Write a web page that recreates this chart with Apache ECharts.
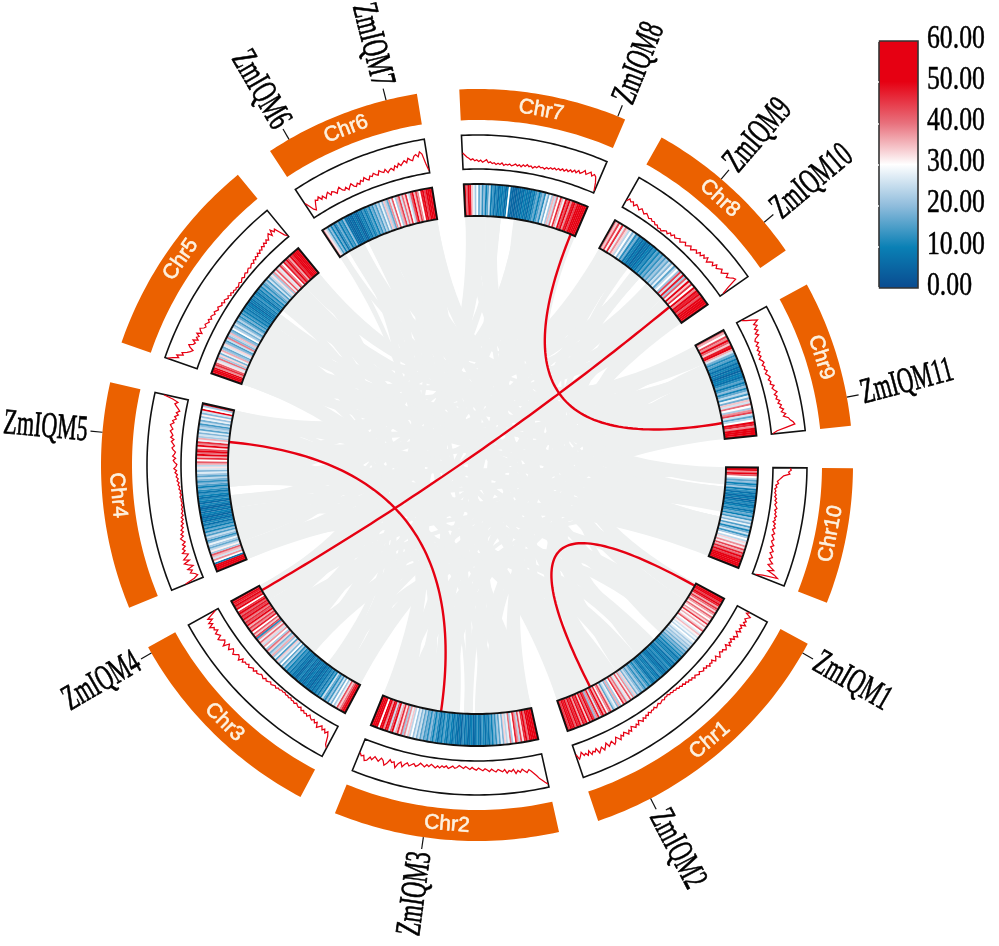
<!DOCTYPE html>
<html><head><meta charset="utf-8">
<style>html,body{margin:0;padding:0;background:#fff}#c{width:999px;height:946px}</style>
<script src="https://cdn.jsdelivr.net/npm/echarts@6/dist/echarts.min.js"></script>
</head><body><div id="c"></div>
<script>
const chrNames=['Chr1','Chr2','Chr3','Chr4','Chr5','Chr6','Chr7','Chr8','Chr9','Chr10'];
const chrStart=[118.4,167.4,208,247.7,289,326.6,357.3,29.4,61.3,90.5];
const chrEnd=[161.2,202.2,241,282.7,320.5,350.8,383.2,55.2,84,111.5];

const heatChr1=[52,56,54,44,50,47,36,46,40,33,44,37,31,41,35,30,38,33,45,31,36,29,34,42,30,27,35,31,26,29,24,30,27,22,26,21,24,18,23,15,19,13,17,10,14,8,12,9,15,7,11,6,10,13,8,12,5,9,7,11,14,6,10,8,13,9,7,12,16,10,14,19,12,17,22,15,20,25,18,33,24,38,28,42,32,26,40,35,46,30,22,36,19,28,24,16,33,44,38,29,47,36,51,42,26,48,38,20,45,53,40,50,34,55,44,49,37,54,46,52,41,56,48,54,44,50];
const heatChr2=[56,56,55,54,53,40,50,46,32,44,24,38,47,30,22,40,28,24,33,19,27,16,22,13,18,10,15,8,12,7,11,14,6,9,12,7,5,10,8,6,11,7,13,5,9,6,8,12,7,10,14,8,11,16,9,13,7,12,17,10,15,20,12,18,14,22,16,25,19,27,21,30,24,34,28,38,22,42,32,46,36,27,50,42,25,48,54,38,52,56,30,55,51,56,54];
const heatChr3=[56,52,47,40,34,43,28,22,30,18,26,14,21,12,17,25,10,15,8,13,7,11,6,9,5,8,6,10,7,5,9,6,11,7,5,9,7,12,8,14,10,18,12,24,16,30,19,26,34,15,28,21,36,24,18,33,40,22,30,37,25,33,41,28,38,12,44,34,42,30,48,38,45,36,50,42,46,39,52,44,48,41,53,46,30,50,44,52,47,54,49];
const heatChr4=[56,54,50,55,8,30,38,26,35,42,22,31,24,17,22,28,19,13,20,25,15,21,11,17,9,14,7,11,6,9,5,8,10,6,9,5,7,11,6,9,12,7,10,14,8,12,17,10,15,19,13,18,24,16,21,27,19,26,32,24,36,42,30,46,36,50,40,54,44,32,50,38,46,28,36,22,26,19,27,16,24,20,14,25,18,28,21,31,19,26,52,30,22,56];
const heatChr5=[57,55,53,50,38,46,42,32,26,40,22,33,18,28,36,21,17,27,33,20,15,25,39,19,24,35,20,16,30,23,18,26,20,15,23,17,12,18,11,15,9,13,8,11,7,10,6,9,7,12,8,14,10,7,13,9,16,11,19,13,17,22,15,26,18,24,32,22,38,28,43,33,27,46,38,30,48,40,52,44,36,50,46,55,58,57,58,56];
const heatChr6=[38,32,24,14,20,10,17,7,13,18,9,15,11,20,8,6,5,7,5,9,6,4,8,11,7,14,9,12,16,10,18,13,21,15,24,18,28,20,34,23,17,38,27,42,30,22,36,44,26,40,33,46,29,24,42,50,35,45,38,30,48,52,44,56,57,57,58];
const heatChr7=[56,40,55,48,34,28,22,30,17,24,13,20,10,16,25,9,14,7,12,6,10,8,11,6,9,30,7,5,6,4,7,5,8,6,10,7,9,6,11,8,13,17,10,15,20,12,26,18,30,22,35,25,40,30,46,36,28,50,42,54,38,48,55,44,52,57,50,56,54,57];
const heatChr8=[40,34,44,31,46,28,38,33,24,30,19,26,12,18,8,11,6,9,5,8,6,10,7,13,9,16,11,18,13,20,15,22,17,25,19,28,16,24,30,21,44,26,48,22,42,28,50,34,46,30,52,38,55,47,56,42,57,55,57,56,58];
const heatChr9=[42,36,30,44,38,50,41,34,48,52,36,26,18,12,16,9,13,7,11,6,9,5,8,10,7,12,16,9,14,20,11,17,24,14,28,18,34,26,40,30,22,38,44,26,16,24,30,50,47,38,54,52,56,55];
const heatChr10=[55,52,38,54,42,30,24,16,20,10,15,22,9,13,7,11,6,9,5,8,12,7,10,14,8,12,17,10,21,14,26,19,28,15,24,11,18,26,14,22,30,24,33,28,38,32,44,36,47,40,52,44,55,50,56,54,57];
const heatValues=[heatChr1,heatChr2,heatChr3,heatChr4,heatChr5,heatChr6,heatChr7,heatChr8,heatChr9,heatChr10];

const lineChr1=[42,34,50,44,38,46,40,50,36,44,39,47,35,42,48,37,44,33,41,36,45,31,38,42,33,37,30,36,41,28,34,38,27,33,29,35,26,31,24,30,27,22,28,24,20,26,19,23,17,21,15,19,13,17,12,15,10,13,9,12,8,11,6,10,8,13,9,12,15,10,14,18,12,17,15,20,14,22,17,25,19,28,22,18,30,24,32,27,22,35,28,38,31,26,36,30,42,34,28,40,46,33,38,44,31,40,48,36,43,50,34,42,38,46,32,44,36,40,28,38,46,30];
const lineChr2=[90,84,76,70,60,52,44,38,46,40,34,42,36,44,31,37,33,40,29,35,31,27,34,30,25,32,27,23,29,25,21,27,24,19,25,21,17,23,19,15,21,24,18,22,26,19,24,20,27,22,29,24,20,28,23,31,26,22,30,34,27,32,37,29,35,44,31,38,52,36,40,33,46,54,41,36,48,43,38,50,44,56,60,46,50,42];
const lineChr3=[72,64,40,28,36,26,32,22,28,34,20,26,18,24,20,14,22,16,19,13,18,10,15,12,8,13,9,11,6,10,7,9,5,8,6,10,8,13,9,12,15,10,14,17,12,19,15,13,18,21,16,24,18,22,27,20,26,24,31,23,36,28,25,33,38,30,27,40,34,28,46,36,32,42,48,35,40,45,33,42,38,50,36,46,30,42,26,10];
const lineChr4=[55,25,12,18,30,22,34,15,28,38,20,36,26,18,34,24,30,20,27,17,23,28,18,24,15,21,13,18,10,15,8,13,6,10,5,8,4,7,3,6,5,8,3,7,4,9,6,11,7,13,9,15,11,18,13,21,15,12,19,23,16,25,20,17,24,28,21,26,31,24,34,28,32,37,30,35,39,29,34,24,30,20,27,18,24,30,36,28,45,72];
const lineChr5=[92,78,62,70,52,58,44,36,30,42,48,36,32,42,28,36,30,40,26,34,38,28,24,30,26,22,28,20,26,23,18,24,20,16,22,18,14,19,12,17,14,10,15,8,13,7,10,6,9,5,8,11,6,10,13,8,12,15,10,14,17,12,16,19,14,22,17,24,19,27,21,29,24,32,26,35,29,37,31,40,46,34,50,38,44,28,12,5];
const lineChr6=[50,36,22,16,30,42,38,46,34,42,30,38,44,32,40,36,28,36,42,30,26,33,22,30,36,26,22,30,24,34,28,38,30,26,36,32,40,34,30,42,36,32,40,28,34,38,30,42,35,46,38,44,50,42,54,48,44,56,60,52,66,58,30,8];
const lineChr7=[48,42,36,32,27,30,24,27,22,26,20,24,28,19,22,17,20,15,19,16,21,14,18,16,20,15,18,22,17,21,16,23,19,25,20,23,18,24,21,27,23,26,22,28,25,30,27,32,28,34,30,36,31,38,33,40,35,43,37,46,39,44,52,42,48,54,44,51,46,30,6];
const lineChr8=[22,32,26,30,20,28,24,18,26,21,16,22,18,13,17,12,15,9,12,6,9,5,11,15,10,18,13,21,15,19,24,16,22,27,19,25,30,21,28,33,26,36,29,39,32,42,30,38,44,36,48,40,46,52,43,50,58,47,54,62,66,35,12];
const lineChr9=[16,28,44,58,42,50,38,46,34,42,28,24,32,22,28,20,26,18,24,16,22,26,18,24,20,27,19,25,30,22,28,24,34,26,31,38,28,35,30,40,33,42,36,46,38,50,42,56,60,68,72,45,18,5];
const lineChr10=[50,54,46,50,32,26,20,14,18,10,14,8,12,9,14,10,16,12,18,13,17,21,15,20,17,23,18,22,16,24,20,26,19,23,28,21,26,30,24,28,34,26,32,37,29,35,40,32,38,46,34,44,56,40,62,74,30,10];
const lineValues=[lineChr1,lineChr2,lineChr3,lineChr4,lineChr5,lineChr6,lineChr7,lineChr8,lineChr9,lineChr10];

const greyLinks=[[19,23.2,118.4,123],[51.5,55.2,167.4,172],[80,84,208,212.5],[106,111.5,247.7,252],[156,161.2,289,293],[197.5,202.2,326.6,328],[237,241,357.3,2],[278,282.7,29.4,33.5],[316,320.5,61.3,66],[346.5,350.8,90.5,94],
[123,126,8.5,11],[125,128,265,267.5],[128,130.5,297,299.5],[129.5,132,339,341.5],[130.5,132.5,43,45.5],[134.5,137.5,273,276],[136,139,329,331.5],[137.5,140,13,15.5],[140,143,221,223.5],[141.5,144,304.5,306.5],[143,145,2,4],[144,146,71,73.5],[146,149,260,262],[147,150,342,344.5],[148.5,151,38.5,40.5],[151,154,229,231.5],[152,155,312,314.5],[153.5,156,66,68.5],[156,159,334,336.5],[158,161.2,33.5,36],
[167.4,170,278,280.5],[169,172,312.5,315],[172,174.5,269,271.5],[173,175.5,347,349.5],[174,176.5,45,48],[176.5,179,301,303],[177.5,180,9.5,12],[178.5,180.5,76,78.5],[181,183,339,341],[181,183,34,36],[184,186.5,289,291.5],[185,187.5,3,5.5],[186,188,48,50],[187,189,95,97.5],[189,191.5,330,332.5],[190,192,14,16.5],[191,193,66.5,69],[193,195.5,343,345.5],[194,196.5,39,41],[195,197.5,102,104.5],[197.5,200,18,20.5],[198.5,201,72,74.5],[200,202.2,98,100],
[208,210.5,308.5,310.5],[210,212.5,347,349.5],[212.5,215,305,307],[213.5,216,15,17.5],[214.5,217,76.5,79],[221,223.5,335,337.5],[222,224,30,32.5],[223,225,98.5,100.5],[225,227.5,317,319.5],[226,228,10,12.5],[227,229,62,64.5],[229,231.5,343,345],[230,232,49,51],[231,233,103,105],[233,235.5,357.5,0.5],[234,236,43,45.5],[235,237,91,93],[237,239.5,19,21.5],[238,240,67,69.5],[239,241,107,109.5],
[247.7,250.5,34,36.5],[249.5,252,81,83],[252,254.5,3.5,5.5],[253,255,52,54],[254,256,95.5,97.5],[256,258.5,39,41],[257,259,72,74],[258,260,119,121.5],[260,262,14,16],[261,263,99,100.8],[265,267.5,44,46.5],[266,268,91,93],[267,269,124,126.5],[269,271.5,9,11.5],[270.5,273,76,78.5],[273,276,67,69.5],[275,278,102,104.5],[278,280.5,62,64.5],[280,282.7,107,110],
[289,291.5,48.5,50.5],[290.5,293,95,97],[293,295.5,39,41],[294.5,297,81,83.5],[297,299.5,30,32.5],[298,300,91,93],[299,301,129,131.5],[301,303,72,74.5],[302.5,304.5,107,110],[304.5,306.5,52,54.5],[305.5,307.5,98,100],[308.5,310.5,34,36.5],[310,312,102,104.5],[312,314.5,67,69.5],[313.5,316,119,121.5],[316,318.5,43,45.5],[318,320.5,76,78.5],
[326.6,328,81,83],[329,331.5,48.5,50.5],[330.5,333,95,97],[334,336.5,72,74.5],[335.5,338,107,110],[338,340.5,62,64.5],[339.5,342,98,100],[342,344.5,52,54.5],[343.5,346.5,124,126.5],[346.5,350.8,102,105],
[357.3,0,76,78.5],[2,5,91,93.5],[9,12,81,83.5],[13.5,16,95,97.5],[18,21,107,110],
[12,14,92,94.5],[17,18.5,102,104],[69,71.5,150,153],[74,76.5,155,158],[78.5,80.5,168,171],[36,37.5,120,123],[104.5,106.5,190,193],[97,98.5,175,178],[124,127,210,213],[128,131,214,216.5],[136,139,223,226],[142,145,231,234],[150,153,237,240],[155,158,249,252],
[170,173,256,259],[175,178,261,263],[182,183,265,267],[186,189,270,273],[191,194,276,279],[196,199,281,282.7],[210,212,291,294],[215,217,296,299],[222,224,300,303],[228,231,306,307.5],[233,236,311,314],[238,241,317,320],
[250,252,330,333],[255,257,336,339],[260,262,341,344],[267,270,346,349],[272,275,348,350.5],[291,294,4,5.5],[296,299,9,12],[301,304,13,16],[309,312,18,21],[330,333,39,41],[335,338,44,47],[341,344,49,51],[347,350,33,36],[0,2,67,70],[10,13,72,75],[15,18,77,79.5],[31,33,98,100.5],[44,47,103,105.5],[50,53,109,111]];
const redLinks=[[22.1,80.3],[50.6,239.8],[275.3,188.3],[119,153]];
const geneNames=['ZmIQM1','ZmIQM2','ZmIQM3','ZmIQM4','ZmIQM5','ZmIQM6','ZmIQM7','ZmIQM8','ZmIQM9','ZmIQM10','ZmIQM11'];
const geneAngles=[120,152.5,188.2,240,275,330,346,22,40.5,49.8,79.6];
const geneTilts=[30,62.5,-82,-30,5,60,76,-68,-49.5,-40,-15];
const legendTicks=[0,10,20,30,40,50,60];
const legendLabels=['0.00','10.00','20.00','30.00','40.00','50.00','60.00'];
const legendColors=['#0a4a8f','#0a80b5','#8fbcdc','#ffffff','#e8707c','#e60012','#e60012'];

const R={linkR:249,heatIn:249,heatOut:281,lineIn:296,lineOut:330,bandIn:345,bandOut:376,tickOut:388,labelR:391};
const RED='#e60012',ORANGE='#eb6100',GREY='#eef0f0',BLACK='#111';
const norm=a=>((a%360)+360)%360;
const pt=(api,r,a)=>{const c=api.coord([r,norm(a)]);return [c[0],c[1]];};
function arc(api,r,a,b,n){const o=[];for(let i=0;i<=n;i++)o.push(pt(api,r,a+(b-a)*i/n));return o;}
function quad(p0,c,p2,n){const o=[];for(let i=1;i<n;i++){const t=i/n,u=1-t;o.push([u*u*p0[0]+2*u*t*c[0]+t*t*p2[0],u*u*p0[1]+2*u*t*c[1]+t*t*p2[1]]);}return o;}
function ringPoly(api,ri,ro,a,b,n){return arc(api,ro,a,b,n).concat(arc(api,ri,b,a,n));}
const heatColor=v=>echarts.color.lerp(Math.min(1,Math.max(0,v/60)),legendColors);

const heatData=[],lineData=[];
heatValues.forEach((arr,c)=>arr.forEach((v,i)=>heatData.push([c,i,v])));
lineValues.forEach((arr,c)=>lineData.push([c,arr.length]));

const polarBase={type:'custom',coordinateSystem:'polar',silent:true,clip:false,animation:false};
const series=[
 Object.assign({},polarBase,{name:'grey links',z:1,data:greyLinks,renderItem(p,api){
   const [a1,a2raw,b1,b2raw]=greyLinks[p.dataIndex];
   const a2=a2raw<a1?a2raw+360:a2raw,b2=b2raw<b1?b2raw+360:b2raw;
   const c=pt(api,0,0);
   const A=arc(api,R.linkR,a1,a2,5),B=arc(api,R.linkR,b1,b2,5);
   const pts=[].concat(A,quad(A[5],c,B[0],36),B,quad(B[5],c,A[0],36));
   return {type:'polygon',shape:{points:pts},style:{fill:GREY,stroke:null}};
 }}),
 Object.assign({},polarBase,{name:'red links',z:3,data:redLinks,renderItem(p,api){
   const [a,b]=redLinks[p.dataIndex];
   const c=pt(api,0,0),A=pt(api,R.linkR,a),B=pt(api,R.linkR,b);
   return {type:'polyline',shape:{points:[A].concat(quad(A,c,B,70),[B])},style:{fill:null,stroke:RED,lineWidth:2.4}};
 }}),
 Object.assign({},polarBase,{name:'heat cells',z:4,data:heatData,renderItem(p,api){
   const [c,i,v]=heatData[p.dataIndex],n=heatValues[c].length,s=chrStart[c],e=chrEnd[c],w=(e-s)/n;
   const a=s+i*w,b=Math.min(e,a+w*1.1);
   const fill=heatColor(v);
   return {type:'polygon',shape:{points:ringPoly(api,R.heatIn,R.heatOut,a,b,2)},style:{fill,stroke:null}};
 }}),
 Object.assign({},polarBase,{name:'frames',z:5,data:chrNames.map((_,i)=>[i]),renderItem(p,api){
   const i=p.dataIndex,s=chrStart[i],e=chrEnd[i],n=40;
   return {type:'group',children:[
    {type:'polygon',shape:{points:ringPoly(api,R.heatIn,R.heatOut,s,e,n)},style:{fill:null,stroke:BLACK,lineWidth:1.9}},
    {type:'polygon',shape:{points:ringPoly(api,R.lineIn,R.lineOut,s,e,n)},style:{fill:'#fff',stroke:BLACK,lineWidth:1.6}},
    {type:'polygon',shape:{points:ringPoly(api,R.bandIn,R.bandOut,s,e,n)},style:{fill:ORANGE,stroke:null}}
   ]};
 }}),
 Object.assign({},polarBase,{name:'density lines',z:6,data:lineData,renderItem(p,api){
   const c=p.dataIndex,arr=lineValues[c],s=chrStart[c],e=chrEnd[c];
   const pts=arr.map((v,i)=>pt(api,R.lineIn+(R.lineOut-R.lineIn)*v/100,s+(e-s)*(i+0.2)/(arr.length-0.6)));
   return {type:'polyline',shape:{points:pts},style:{fill:null,stroke:RED,lineWidth:1.25}};
 }}),
 Object.assign({},polarBase,{name:'chr labels',z:7,data:chrNames.map((_,i)=>[i]),renderItem(p,api){
   const i=p.dataIndex,a=(chrStart[i]+chrEnd[i])/2,m=norm(a),q=pt(api,(R.bandIn+R.bandOut)/2,m);
   const rot=(m>90&&m<270)?m-180:(m>=270?m-360:m);
   return {type:'text',x:q[0],y:q[1],rotation:-rot*Math.PI/180,style:{text:chrNames[i],fill:'#fdf1df',stroke:'#fdf1df',lineWidth:0.6,font:'21px "Liberation Sans"',align:'center',verticalAlign:'middle'}};
 }}),
 Object.assign({},polarBase,{name:'genes',z:8,data:geneNames.map((_,i)=>[i]),renderItem(p,api){
   const i=p.dataIndex,a=geneAngles[i],A=pt(api,R.bandOut,a),B=pt(api,R.tickOut,a),T=pt(api,R.labelR,a);
   const right=a<180,rot=geneTilts[i];
   return {type:'group',children:[
    {type:'line',shape:{x1:A[0],y1:A[1],x2:B[0],y2:B[1]},style:{stroke:BLACK,lineWidth:1.2}},
    {type:'text',x:T[0],y:T[1],rotation:-rot*Math.PI/180,scaleX:0.61,style:{text:geneNames[i],fill:'#000',stroke:'#000',lineWidth:0.7,font:'36px "Liberation Serif"',align:right?'left':'right',verticalAlign:'middle'}}
   ]};
 }}),
 {type:'custom',coordinateSystem:'cartesian2d',xAxisIndex:0,yAxisIndex:0,silent:true,clip:false,animation:false,z:2,data:[[0,0]],renderItem(p,api){
   const a=api.coord([0,0]),b=api.coord([1,60]);
   return {type:'rect',shape:{x:a[0],y:b[1],width:b[0]-a[0],height:a[1]-b[1]},style:{
     fill:new echarts.graphic.LinearGradient(0,1,0,0,legendColors.map((c,i)=>({offset:i/(legendColors.length-1),color:c}))),stroke:'#333',lineWidth:1.6}};
 }},
 {type:'custom',coordinateSystem:'cartesian2d',xAxisIndex:0,yAxisIndex:0,silent:true,clip:false,animation:false,z:3,data:legendTicks.map(v=>[1,v]),renderItem(p,api){
   const q=api.coord([1,legendTicks[p.dataIndex]]);
   return {type:'text',x:q[0]+9,y:q[1]-2,scaleX:0.78,style:{text:legendLabels[p.dataIndex],fill:'#000',stroke:'#000',lineWidth:0.5,font:'33px "Liberation Serif"',align:'left',verticalAlign:'middle'}};
 }}
];
const chart=echarts.init(document.getElementById('c'),null,{renderer:'canvas'});
chart.setOption({animation:false,backgroundColor:'#fff',
 polar:{center:[477,465],radius:[0,400]},
 radiusAxis:{type:'value',min:0,max:400,show:false},
 angleAxis:{type:'value',min:0,max:360,startAngle:90,clockwise:true,show:false},
 grid:{left:879,top:41,width:39,height:247,containLabel:false},
 xAxis:{type:'value',min:0,max:1,show:false},
 yAxis:{type:'value',min:0,max:60,interval:10,position:'right',z:10,splitLine:{show:false},axisLine:{show:false},axisLabel:{show:false},axisTick:{show:true,inside:true,length:3,lineStyle:{color:'#fff',width:1.5}}},
 series});
</script></body></html>
